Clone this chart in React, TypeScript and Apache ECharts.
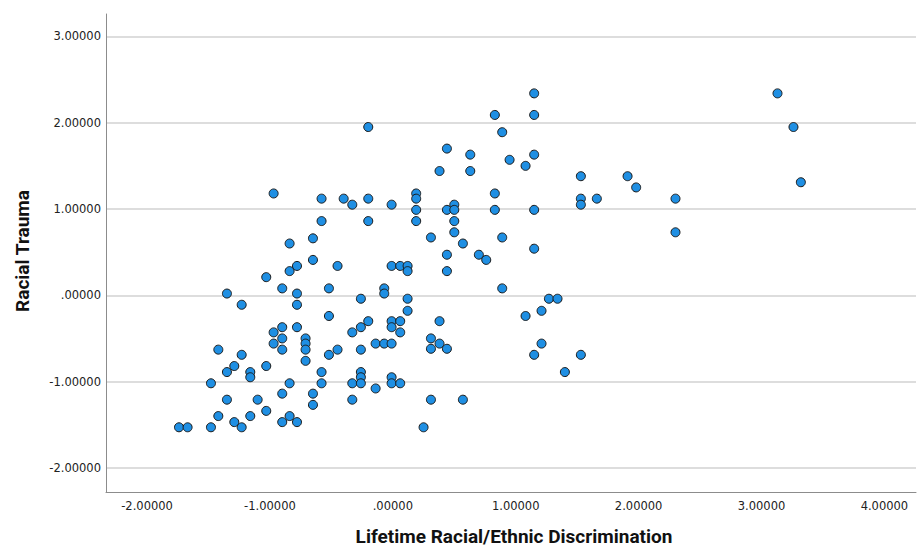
import React, { useEffect, useRef } from "react";
import * as echarts from "echarts";

// Lifetime Racial/Ethnic Discrimination (x) and Racial Trauma (y), standardized scores
const discrimination: number[] = [
  -0.97, -0.58, -0.40, -0.33, -0.20, -0.01, -0.58, -0.20, -0.84, -0.65,
  -0.65, -0.78, -0.84, -0.45, -0.01, 0.06, 0.12, 0.12, -1.03, -0.90,
  -0.52, -0.07, -0.07, -1.35, -0.78, -1.23, -0.78, -0.26, 0.12, 0.12,
  -0.52, -0.90, -0.78, -0.26, -0.20, -0.01, 0.06, -0.01, -0.97, -0.90,
  -0.71, -0.33, 0.06, -0.71, -0.71, -0.97, -0.90, -1.42, -1.23, -0.71,
  -0.52, -0.45, -0.26, -0.14, -0.07, -0.01, -1.29, -1.35, -1.16, -1.16,
  -1.03, -0.58, -0.26, -0.26, -1.48, -0.84, -0.58, -0.33, -0.26, -0.14,
  -0.01, -0.01, 0.06, -0.90, -0.65, -1.35, -1.10, -0.33, -0.65, -1.03,
  -1.42, -1.16, -0.84, -1.29, -0.90, -0.78, -1.74, -1.67, -1.48, -1.23,
  0.31, 0.57, 0.25, -0.20, 0.83, 1.15, 1.15, 0.89, 0.44, 0.63,
  0.95, 1.08, 1.15, 0.38, 0.63, 0.83, 0.19, 0.19, 0.19, 0.19,
  0.44, 0.50, 0.50, 0.50, 0.50, 0.83, 1.15, 0.31, 0.89, 1.53,
  1.91, 1.98, 1.53, 1.53, 1.66, 2.30, 2.30, 0.57, 1.15, 0.70,
  0.76, 0.44, 0.44, 0.89, 0.38, 0.31, 0.38, 0.44, 0.31, 1.08,
  1.21, 1.27, 1.21, 1.15, 1.34, 1.53, 1.40, 3.13, 3.26, 3.32,
];

const trauma: number[] = [
  1.18, 1.12, 1.12, 1.05, 1.12, 1.05, 0.86, 0.86, 0.60, 0.66,
  0.41, 0.34, 0.28, 0.34, 0.34, 0.34, 0.34, 0.28, 0.21, 0.08,
  0.08, 0.08, 0.02, 0.02, 0.02, -0.11, -0.11, -0.04, -0.04, -0.18,
  -0.24, -0.37, -0.37, -0.37, -0.30, -0.30, -0.30, -0.37, -0.43, -0.50,
  -0.50, -0.43, -0.43, -0.56, -0.63, -0.56, -0.63, -0.63, -0.69, -0.76,
  -0.69, -0.63, -0.63, -0.56, -0.56, -0.56, -0.82, -0.89, -0.89, -0.95,
  -0.82, -0.89, -0.89, -0.95, -1.02, -1.02, -1.02, -1.02, -1.02, -1.08,
  -0.95, -1.02, -1.02, -1.14, -1.14, -1.21, -1.21, -1.21, -1.27, -1.34,
  -1.40, -1.40, -1.40, -1.47, -1.47, -1.47, -1.53, -1.53, -1.53, -1.53,
  -1.21, -1.21, -1.53, 1.95, 2.09, 2.09, 2.34, 1.89, 1.70, 1.63,
  1.57, 1.50, 1.63, 1.44, 1.44, 1.18, 1.18, 1.12, 0.99, 0.86,
  0.99, 1.05, 0.99, 0.86, 0.73, 0.99, 0.99, 0.67, 0.67, 1.38,
  1.38, 1.25, 1.12, 1.05, 1.12, 1.12, 0.73, 0.60, 0.54, 0.47,
  0.41, 0.47, 0.28, 0.08, -0.30, -0.50, -0.56, -0.62, -0.62, -0.24,
  -0.18, -0.04, -0.56, -0.69, -0.04, -0.69, -0.89, 2.34, 1.95, 1.31,
];

const xTicks: number[] = [-2, -1, 0, 1, 2, 3, 4];
const yTicks: number[] = [-2, -1, 0, 1, 2, 3];

const xTitle = "Lifetime Racial/Ethnic Discrimination";
const yTitle = "Racial Trauma";

const fmt = (v: number): string => {
  if (Math.abs(v) < 1e-9) return ".00000";
  return v.toFixed(5);
};

export default function App() {
  const ref = useRef<HTMLDivElement>(null);

  useEffect(() => {
    if (!ref.current) return;
    const chart = echarts.init(ref.current, undefined, { renderer: "svg" });
    const points = discrimination.map((x, i) => [x, trauma[i]]);
    const labelStyle = {
      fontFamily: "DejaVu Sans",
      fontSize: 11.5,
      color: "#222222",
    };
    chart.setOption({
      animation: false,
      backgroundColor: "#ffffff",
      grid: { left: 106, right: 1, top: 14, bottom: 54, containLabel: false },
      xAxis: {
        type: "value",
        min: -2.334,
        max: 4.257,
        axisLine: { show: true, onZero: false, lineStyle: { color: "#8c8c8c", width: 1 } },
        axisTick: { show: false, customValues: xTicks },
        axisLabel: { ...labelStyle, margin: 8, customValues: xTicks, formatter: fmt },
        splitLine: { show: false },
      },
      yAxis: {
        type: "value",
        min: -2.28,
        max: 3.26,
        axisLine: { show: true, onZero: false, lineStyle: { color: "#8c8c8c", width: 1 } },
        axisTick: { show: false, customValues: yTicks },
        axisLabel: { ...labelStyle, margin: 5, customValues: yTicks, formatter: fmt },
        splitLine: { show: true, lineStyle: { color: "#d2d2d2", width: 1.5 } },
      },
      graphic: [
        {
          type: "text",
          x: 514,
          y: 536,
          style: {
            text: xTitle,
            fontFamily: "Roboto",
            fontWeight: "bold",
            fontSize: 19,
            fill: "#111111",
            textAlign: "center",
            textVerticalAlign: "middle",
          },
        },
        {
          type: "text",
          x: 22,
          y: 251,
          rotation: Math.PI / 2,
          style: {
            text: yTitle,
            fontFamily: "Roboto",
            fontWeight: "bold",
            fontSize: 19,
            fill: "#111111",
            textAlign: "center",
            textVerticalAlign: "middle",
          },
        },
      ],
      series: [
        {
          type: "scatter",
          data: points,
          symbol: "circle",
          symbolSize: 9,
          itemStyle: { color: "#1f8fe3", borderColor: "#1a1a1a", borderWidth: 1, opacity: 1 },
        },
      ],
    });
    return () => chart.dispose();
  }, []);

  return (
    <div
      ref={ref}
      style={{ position: "absolute", left: 0, top: 0, width: 917, height: 546 }}
    />
  );
}
